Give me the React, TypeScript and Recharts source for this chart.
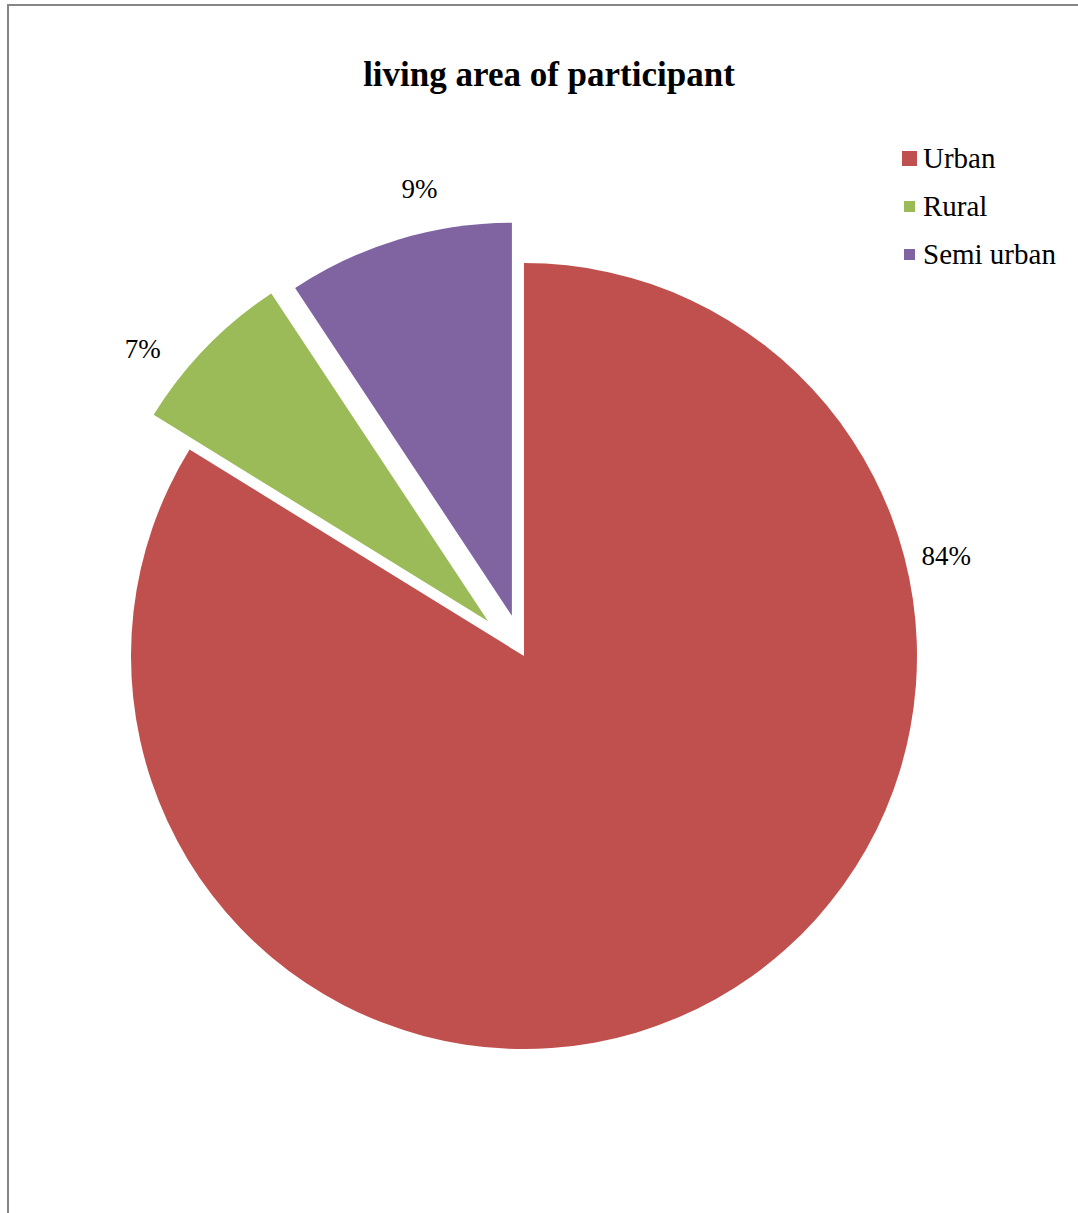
import { PieChart, Pie, Cell, Legend } from 'recharts';

const categories = ['Urban', 'Rural', 'Semi urban'];
const shares = [83.8, 6.9, 9.3];

const COLORS = ['#C0504D', '#9BBB59', '#8064A2'];
const EXPLODE = [0, 50, 42];
// label placement (clockwise from 12 o'clock) and gap beyond the rim
const LABEL_ANGLE = [76.7, 308.3, 347.8];
const LABEL_GAP = [41, 47, 44];
const KEY_SIZE = [15, 11, 11];

const W = 1078;
const H = 1213;
const CX = 524;
const CY = 656;
const R = 393;
const FONT = 'Liberation Serif, Times New Roman, serif';

const data = categories.map((name, i) => ({ name, value: shares[i] }));
const total = shares.reduce((a, b) => a + b, 0);

const rad = (deg: number) => (deg * Math.PI) / 180;

function sliceCenter(k: number) {
  const before = shares.slice(0, k).reduce((a, b) => a + b, 0);
  const mid = ((before + shares[k] / 2) / total) * 360;
  return {
    cx: CX + EXPLODE[k] * Math.sin(rad(mid)),
    cy: CY - EXPLODE[k] * Math.cos(rad(mid)),
  };
}

function makeLabel(k: number) {
  return (props: any) => {
    if (props.index !== k) return null;
    const r = R + LABEL_GAP[k];
    const x = props.cx + r * Math.sin(rad(LABEL_ANGLE[k]));
    const y = props.cy - r * Math.cos(rad(LABEL_ANGLE[k]));
    return (
      <text
        x={x}
        y={y}
        textAnchor="middle"
        dominantBaseline="central"
        style={{ fontFamily: FONT, fontSize: 27 }}
        fill="#000"
      >
        {`${(props.percent * 100).toFixed(0)}%`}
      </text>
    );
  };
}

function LegendBox() {
  return (
    <div style={{ fontFamily: FONT, fontSize: 29, color: '#000' }}>
      {categories.map((name, i) => (
        <div
          key={name}
          style={{ display: 'flex', alignItems: 'center', height: 48 }}
        >
          <div style={{ width: 27, display: 'flex', justifyContent: 'center' }}>
            <span
              style={{
                display: 'inline-block',
                width: KEY_SIZE[i],
                height: KEY_SIZE[i],
                background: COLORS[i],
              }}
            />
          </div>
          <span style={{ lineHeight: '48px', fontFamily: FONT }}>{name}</span>
        </div>
      ))}
    </div>
  );
}

export default function App() {
  return (
    <div
      style={{
        position: 'absolute',
        left: 0,
        top: 0,
        width: W,
        height: H,
        overflow: 'hidden',
        background: '#fff',
      }}
    >
      <div
        style={{
          position: 'absolute',
          left: 7,
          top: 4,
          width: 2000,
          height: 2000,
          borderTop: '2px solid #868686',
          borderLeft: '2px solid #868686',
        }}
      />
      <div
        style={{
          position: 'absolute',
          left: 0,
          width: W,
          top: 53,
          textAlign: 'center',
          paddingLeft: 20,
          boxSizing: 'border-box',
          fontFamily: FONT,
          fontWeight: 'bold',
          fontSize: 35,
          lineHeight: '44px',
        }}
      >
        living area of participant
      </div>
      <div style={{ position: 'absolute', left: 0, top: 0 }}>
        <PieChart
          width={W}
          height={H}
          margin={{ top: 0, right: 0, bottom: 0, left: 0 }}
        >
          {categories.map((_, k) => {
            const c = sliceCenter(k);
            return (
              <Pie
                key={k}
                data={data}
                dataKey="value"
                nameKey="name"
                cx={c.cx}
                cy={c.cy}
                outerRadius={R}
                startAngle={90}
                endAngle={-270}
                stroke="none"
                isAnimationActive={false}
                labelLine={false}
                label={makeLabel(k)}
                legendType={k === 0 ? 'square' : 'none'}
              >
                {data.map((_, i) => (
                  <Cell
                    key={`cell-${i}`}
                    fill={i === k ? COLORS[i] : 'transparent'}
                    stroke="none"
                  />
                ))}
              </Pie>
            );
          })}
          <Legend
            layout="vertical"
            align="right"
            verticalAlign="top"
            content={() => <LegendBox />}
            wrapperStyle={{ left: 896, top: 134, width: 182 }}
          />
        </PieChart>
      </div>
    </div>
  );
}
